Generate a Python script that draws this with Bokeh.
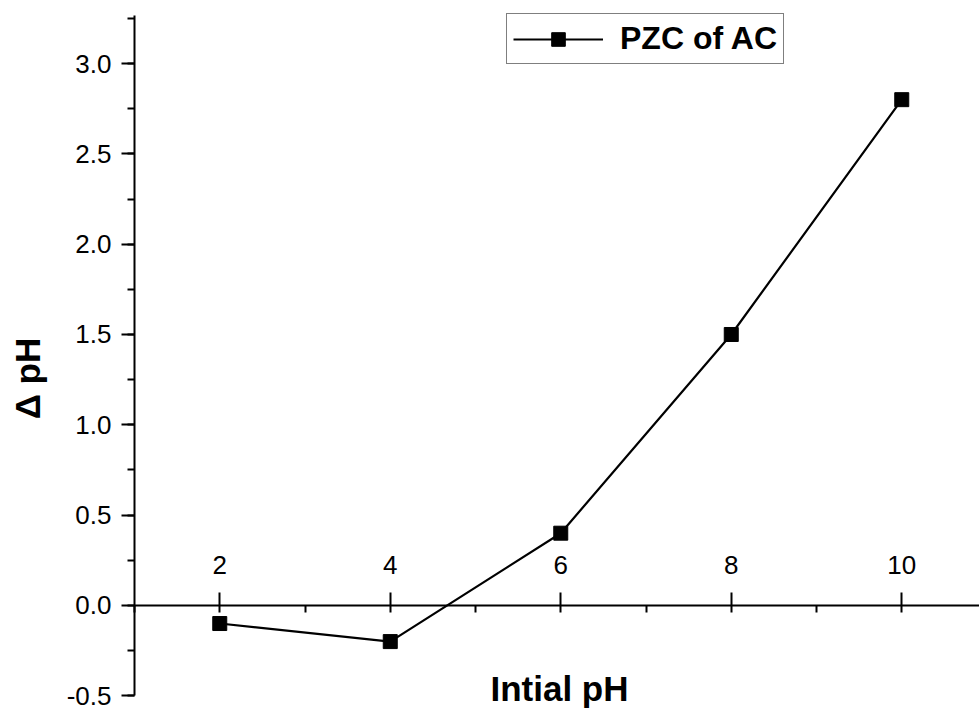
import numpy as np
from bokeh.plotting import figure
from bokeh.models import (Range1d, LinearAxis, SingleIntervalTicker,
                          PrintfTickFormatter, Label)
from bokeh.embed import file_html
from bokeh.resources import INLINE

# ---- data ----
initial_ph = [2, 4, 6, 8, 10]
delta_ph = [-0.1, -0.2, 0.4, 1.5, 2.8]
series_name = "PZC of AC"
x_title = "Intial pH"
y_title = "Δ pH"

FONT = "Liberation Sans"

# frame covers the whole canvas; axes are pinned with fixed_location + bounds
X_START, X_END = -0.572, 10.912
Y_START, Y_END = -0.576, 3.349
Y_AXIS_TOP = 3.264

p = figure(width=979, height=709, output_backend="svg", toolbar_location=None,
           x_range=Range1d(X_START, X_END), y_range=Range1d(Y_START, Y_END),
           x_axis_location=None, y_axis_location=None, min_border=0)
p.min_border_left = 0
p.min_border_right = 0
p.min_border_top = 0
p.min_border_bottom = 0
p.outline_line_color = None
p.background_fill_color = "white"
p.border_fill_color = "white"
for g in p.grid:
    g.visible = False


def style_axis(ax):
    ax.axis_line_width = 2
    ax.axis_line_color = "black"
    ax.major_tick_line_width = 2
    ax.minor_tick_line_width = 2
    ax.major_tick_line_color = "black"
    ax.minor_tick_line_color = "black"
    ax.major_label_text_font = FONT
    ax.major_label_text_font_size = "26px"
    ax.major_label_text_color = "black"


# y axis at x = 1
ya = LinearAxis(fixed_location=1, bounds=(-0.5, Y_AXIS_TOP),
                ticker=SingleIntervalTicker(interval=0.5, num_minor_ticks=2),
                formatter=PrintfTickFormatter(format="%.1f"))
style_axis(ya)
ya.major_tick_out = 13
ya.major_tick_in = 0
ya.minor_tick_out = 7
ya.minor_tick_in = 0
ya.major_label_standoff = 10
p.add_layout(ya, "left")

# x axis through y = 0, labels above
xa = LinearAxis(fixed_location=0, bounds=(1, X_END),
                ticker=SingleIntervalTicker(interval=2, num_minor_ticks=2))
style_axis(xa)
xa.major_tick_out = 13
xa.major_tick_in = 0
xa.minor_tick_out = 0
xa.minor_tick_in = 7
xa.major_label_standoff = 18
p.add_layout(xa, "above")

# data
p.line(initial_ph, delta_ph, line_color="black", line_width=2.2, legend_label=series_name)
p.scatter(initial_ph, delta_ph, marker="square", size=14, fill_color="black",
          line_color="black", legend_label=series_name)

lg = p.legend[0]
lg.location = (506, 645)
lg.margin = 0
lg.padding = 6
lg.spacing = 0
lg.glyph_width = 90
lg.glyph_height = 34
lg.label_standoff = 17
lg.label_text_font = FONT
lg.label_text_font_size = "32px"
lg.label_text_font_style = "bold"
lg.label_text_color = "black"
lg.border_line_color = "black"
lg.border_line_width = 1.5
lg.background_fill_color = "white"
lg.background_fill_alpha = 1.0

# axis titles
p.add_layout(Label(x=5.985, y=-0.459, text=x_title, text_align="center",
                   text_baseline="middle", text_font=FONT,
                   text_font_size="35px", text_font_style="bold",
                   text_color="black"))
p.add_layout(Label(x=-0.255, y=1.256, text=y_title, angle=np.pi / 2,
                   text_align="center", text_baseline="middle", text_font=FONT,
                   text_font_size="35px", text_font_style="bold",
                   text_color="black"))

open("out.html", "w").write(file_html(p, INLINE))
